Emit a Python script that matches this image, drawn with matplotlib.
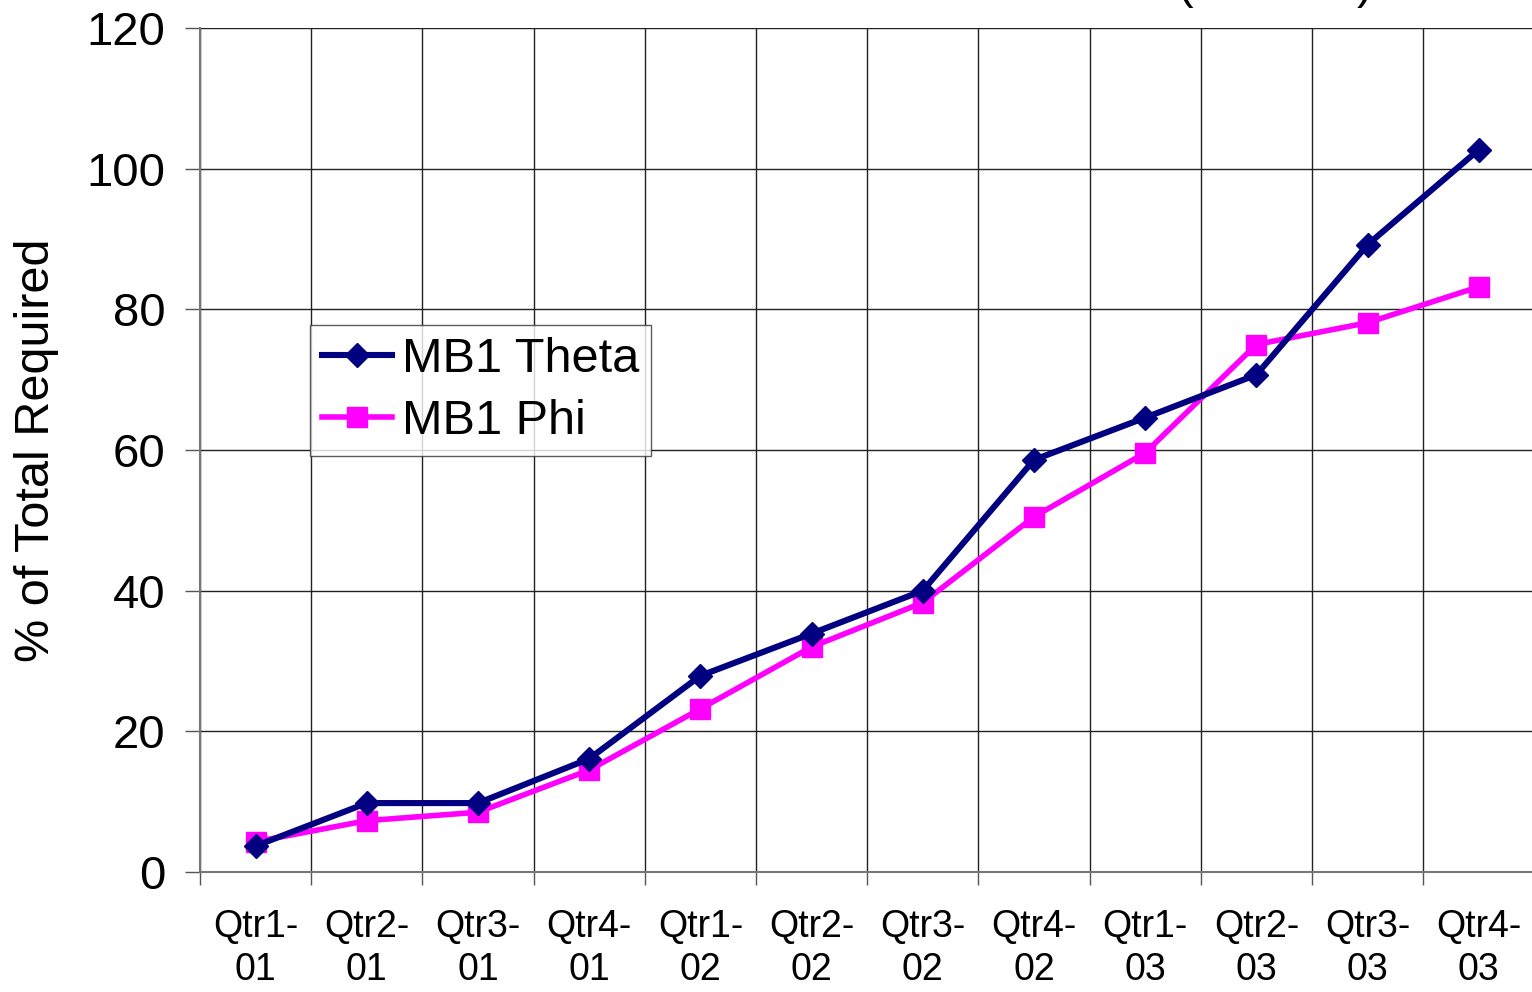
import matplotlib
matplotlib.use("Agg")
import matplotlib.pyplot as plt
from matplotlib.ticker import FixedLocator

plt.rcParams['font.family'] = ['Liberation Sans', 'DejaVu Sans']

categories = ["Qtr1-\n01", "Qtr2-\n01", "Qtr3-\n01", "Qtr4-\n01",
              "Qtr1-\n02", "Qtr2-\n02", "Qtr3-\n02", "Qtr4-\n02",
              "Qtr1-\n03", "Qtr2-\n03", "Qtr3-\n03", "Qtr4-\n03"]
theta = [3.7, 9.8, 9.8, 16.1, 27.9, 33.9, 40.0, 58.6, 64.6, 70.7, 89.2, 102.7]
phi = [4.3, 7.3, 8.5, 14.5, 23.2, 32.0, 38.3, 50.5, 59.6, 75.0, 78.1, 83.2]
y_ticks = [0, 20, 40, 60, 80, 100, 120]

W, H = 1532, 992
fig = plt.figure(figsize=(W / 100, H / 100), dpi=100)
ax = fig.add_axes([200 / W, 1 - 872 / H, 1334.4 / W, 844 / H])

x = list(range(len(categories)))
ax.plot(x, theta, color='#000080', lw=4.4, marker='D', markersize=12,
        markeredgecolor='#000080', label='MB1 Theta', zorder=4, clip_on=False)
ax.plot(x, phi, color='#FF00FF', lw=4.0, marker='s', markersize=15,
        markeredgecolor='#FF00FF', label='MB1 Phi', zorder=3, clip_on=False)

ax.set_xlim(-0.5, len(categories) - 0.5)
ax.set_ylim(0, 120)
ax.set_yticks(y_ticks)
ax.set_xticks(x)
ax.set_xticklabels(categories, fontsize=27, linespacing=1.25)
ax.tick_params(axis='x', length=0, pad=27)
ax.xaxis.set_minor_locator(FixedLocator([i - 0.5 for i in range(len(categories) + 1)]))
ax.tick_params(axis='x', which='minor', length=9, width=1, color='#555555', direction='out')
ax.tick_params(axis='y', labelsize=34, length=11, width=1, color='#555555', pad=14)

ax.grid(True, axis='y', which='major', color='#222222', lw=1)
ax.grid(True, axis='x', which='minor', color='#222222', lw=1)
for s in ['top', 'right']:
    ax.spines[s].set_visible(False)
for s in ['left', 'bottom']:
    ax.spines[s].set_color('#777777')
    ax.spines[s].set_linewidth(1.5)

ax.set_ylabel('% of Total Required', fontsize=35, labelpad=20)

leg = ax.legend(loc='upper left', bbox_to_anchor=(0.0824, 0.648), fontsize=35,
                frameon=True, fancybox=False, handlelength=1.45, handletextpad=0.2,
                borderpad=0.24, labelspacing=0.36, borderaxespad=0)
leg.get_frame().set_edgecolor('#333333')
leg.get_frame().set_linewidth(1)

fig.text(1185 / W, 1 + 2 / H, '(', fontsize=34, ha='center', va='baseline')
fig.text(1365 / W, 1 + 2 / H, ')', fontsize=34, ha='center', va='baseline')

fig.savefig('out.png', dpi=100)
